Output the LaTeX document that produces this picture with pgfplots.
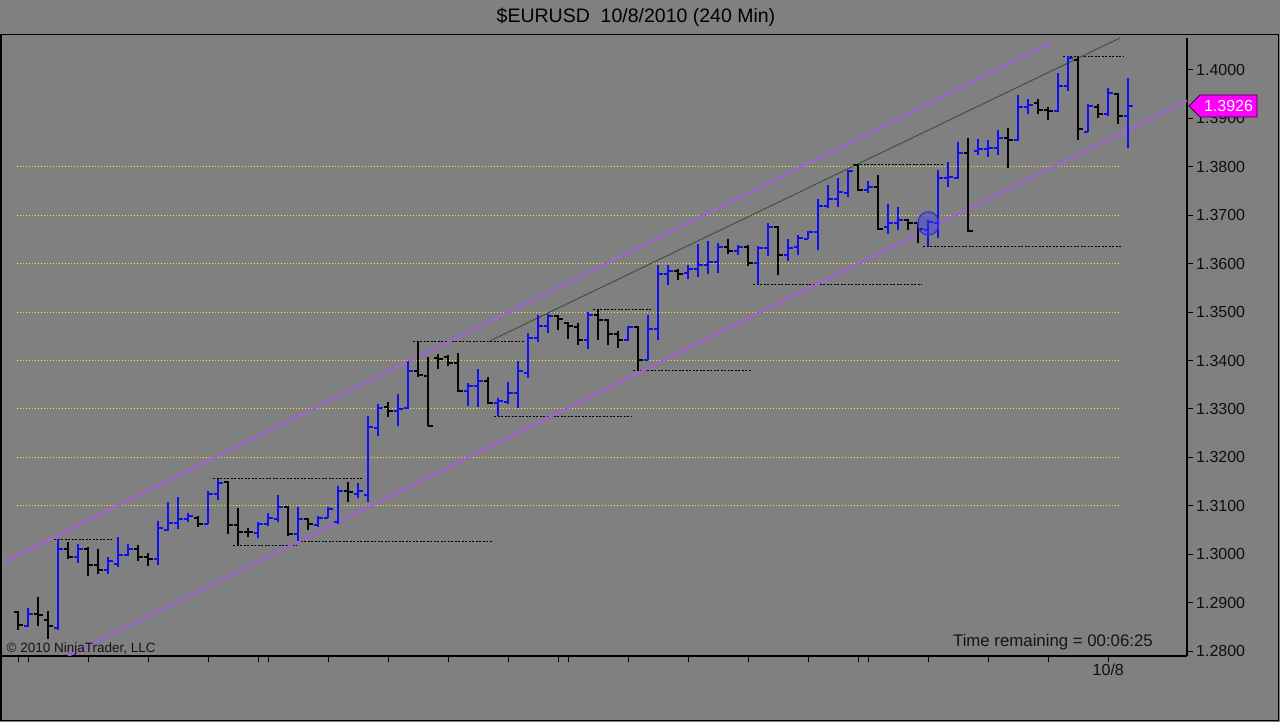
\documentclass[border=0pt]{standalone}
\usepackage{fontspec}
\setmainfont{Liberation Sans}
\usepackage{pgfplots}
\usepackage{pgfplotstable}
\pgfplotsset{compat=1.18}
\definecolor{bg}{RGB}{128,128,128}
\definecolor{upblue}{RGB}{15,15,240}
\definecolor{dnblack}{RGB}{5,5,5}
\definecolor{chan}{RGB}{160,100,210}
\definecolor{midg}{RGB}{60,85,65}
\definecolor{gridy}{RGB}{240,240,20}
\definecolor{mag}{RGB}{255,0,255}
\pgfdeclareplotmark{openL}{\pgfpathmoveto{\pgfqpoint{-4.5pt}{0pt}}\pgfpathlineto{\pgfqpoint{0pt}{0pt}}\pgfusepathqstroke}
\pgfdeclareplotmark{closeR}{\pgfpathmoveto{\pgfqpoint{0pt}{0pt}}\pgfpathlineto{\pgfqpoint{4.5pt}{0pt}}\pgfusepathqstroke}
\pgfplotstableread{
x o h l c
0 1.2881 1.2883 1.2843 1.2854
1 1.2851 1.2889 1.2850 1.2877
2 1.2876 1.2911 1.2852 1.2874
3 1.2865 1.2883 1.2825 1.2851
4 1.2848 1.3031 1.2844 1.3011
5 1.3011 1.3026 1.2989 1.2995
6 1.2995 1.3021 1.2982 1.3011
7 1.3011 1.3015 1.2954 1.2978
8 1.2978 1.3011 1.2959 1.2968
9 1.2968 1.2995 1.2959 1.2985
10 1.2980 1.3035 1.2973 1.2998
11 1.2998 1.3021 1.2997 1.3011
12 1.3011 1.3019 1.2985 1.2994
13 1.2994 1.3002 1.2975 1.2991
14 1.2990 1.3069 1.2978 1.3054
15 1.3050 1.3108 1.3047 1.3064
16 1.3064 1.3118 1.3052 1.3072
17 1.3072 1.3086 1.3067 1.3078
18 1.3074 1.3079 1.3057 1.3063
19 1.3062 1.3130 1.3062 1.3124
20 1.3124 1.3156 1.3112 1.3148
21 1.3150 1.3152 1.3042 1.3061
22 1.3061 1.3095 1.3018 1.3046
23 1.3046 1.3054 1.3035 1.3045
24 1.3043 1.3066 1.3033 1.3062
25 1.3062 1.3085 1.3059 1.3074
26 1.3072 1.3122 1.3067 1.3097
27 1.3097 1.3100 1.3037 1.3042
28 1.3042 1.3097 1.3028 1.3072
29 1.3072 1.3075 1.3050 1.3062
30 1.3060 1.3078 1.3057 1.3075
31 1.3075 1.3097 1.3075 1.3093
32 1.3066 1.3141 1.3062 1.3131
33 1.3131 1.3150 1.3107 1.3128
34 1.3125 1.3148 1.3117 1.3130
35 1.3122 1.3286 1.3107 1.3262
36 1.3260 1.3311 1.3244 1.3302
37 1.3304 1.3314 1.3283 1.3295
38 1.3295 1.3330 1.3265 1.3300
39 1.3302 1.3400 1.3300 1.3379
40 1.3379 1.3441 1.3365 1.3370
41 1.3368 1.3407 1.3264 1.3264
42 1.3406 1.3414 1.3382 1.3403
43 1.3407 1.3412 1.3388 1.3395
44 1.3395 1.3416 1.3335 1.3337
45 1.3337 1.3354 1.3307 1.3347
46 1.3347 1.3382 1.3304 1.3358
47 1.3358 1.3365 1.3311 1.3313
48 1.3313 1.3323 1.3285 1.3316
49 1.3314 1.3356 1.3311 1.3332
50 1.3332 1.3400 1.3302 1.3379
51 1.3374 1.3457 1.3364 1.3447
52 1.3447 1.3494 1.3438 1.3472
53 1.3472 1.3497 1.3456 1.3492
54 1.3492 1.3495 1.3464 1.3485
55 1.3477 1.3479 1.3445 1.3471
56 1.3470 1.3477 1.3432 1.3443
57 1.3443 1.3500 1.3423 1.3495
58 1.3495 1.3507 1.3443 1.3483
59 1.3483 1.3486 1.3433 1.3454
60 1.3454 1.3461 1.3425 1.3443
61 1.3443 1.3472 1.3440 1.3469
62 1.3469 1.3471 1.3380 1.3402
63 1.3402 1.3495 1.3402 1.3466
64 1.3466 1.3597 1.3442 1.3578
65 1.3578 1.3597 1.3555 1.3585
66 1.3585 1.3588 1.3566 1.3579
67 1.3580 1.3598 1.3568 1.3588
68 1.3588 1.3641 1.3573 1.3597
69 1.3597 1.3646 1.3578 1.3603
70 1.3603 1.3642 1.3580 1.3634
71 1.3634 1.3650 1.3620 1.3627
72 1.3627 1.3639 1.3618 1.3634
73 1.3634 1.3639 1.3595 1.3602
74 1.3602 1.3637 1.3559 1.3632
75 1.3632 1.3684 1.3616 1.3675
76 1.3675 1.3677 1.3576 1.3618
77 1.3618 1.3650 1.3605 1.3632
78 1.3634 1.3659 1.3618 1.3652
79 1.3651 1.3668 1.3650 1.3665
80 1.3665 1.3733 1.3629 1.3719
81 1.3719 1.3763 1.3714 1.3734
82 1.3734 1.3777 1.3716 1.3748
83 1.3745 1.3793 1.3738 1.3792
84 1.3803 1.3805 1.3750 1.3752
85 1.3752 1.3770 1.3745 1.3759
86 1.3759 1.3783 1.3670 1.3672
87 1.3676 1.3723 1.3662 1.3684
88 1.3684 1.3717 1.3669 1.3690
89 1.3691 1.3693 1.3669 1.3683
90 1.3683 1.3686 1.3643 1.3672
91 1.3669 1.3691 1.3636 1.3686
92 1.3683 1.3793 1.3652 1.3776
93 1.3776 1.3810 1.3759 1.3778
94 1.3776 1.3852 1.3774 1.3828
95 1.3828 1.3859 1.3665 1.3667
96 1.3832 1.3857 1.3824 1.3837
97 1.3837 1.3855 1.3821 1.3838
98 1.3839 1.3876 1.3824 1.3859
99 1.3859 1.3881 1.3797 1.3855
100 1.3855 1.3948 1.3854 1.3923
101 1.3924 1.3940 1.3910 1.3928
102 1.3931 1.3940 1.3910 1.3917
103 1.3917 1.3924 1.3897 1.3915
104 1.3915 1.3993 1.3914 1.3966
105 1.3966 1.4029 1.3957 1.4024
106 1.4021 1.4028 1.3855 1.3879
107 1.3871 1.3929 1.3871 1.3926
108 1.3924 1.3929 1.3901 1.3910
109 1.3910 1.3962 1.3906 1.3952
110 1.3950 1.3952 1.3888 1.3906
111 1.3906 1.3984 1.3839 1.3926
}\ohlc
\begin{document}
\begin{tikzpicture}
\path[use as bounding box] (0,0) rectangle (1280pt,722pt);
\fill[bg] (0,0) rectangle (1280pt,722pt);
\begin{axis}[
  at={(1pt,66pt)}, anchor=south west,
  scale only axis, width=1186pt, height=618pt,
  xmin=-1.73, xmax=116.87, ymin=1.27897, ymax=1.40661,
  axis x line*=bottom, axis y line*=right,
  axis line style={line width=1.5pt, black},
  tick align=outside, major tick length=6pt,
  tick style={line width=1pt, black},
  xtick={0,1,7,13,19,24,25,31,37,43,49,54,55,61,67,73,79,84,85,91,97,103,109},
  xticklabels={,,,,,,,,,,,,,,,,,,,,,,10/8},
  ytick={1.28,1.29,1.30,1.31,1.32,1.33,1.34,1.35,1.36,1.37,1.38,1.39,1.40},
  yticklabels={1.2800,1.2900,1.3000,1.3100,1.3200,1.3300,1.3400,1.3500,1.3600,1.3700,1.3800,1.3900,1.4000},
  ticklabel style={font=\fontsize{16}{19}\selectfont, text={rgb,255:red,15;green,15;blue,15}},
  yticklabel style={anchor=west, inner sep=3pt},
  xticklabel style={inner sep=2pt},
]
% yellow horizontal levels
\addplot[gridy, line width=1pt, dash pattern=on 1pt off 2pt] coordinates {(-0.15,1.31) (110,1.31)};
\addplot[gridy, line width=1pt, dash pattern=on 1pt off 2pt] coordinates {(-0.15,1.32) (110,1.32)};
\addplot[gridy, line width=1pt, dash pattern=on 1pt off 2pt] coordinates {(-0.15,1.33) (110,1.33)};
\addplot[gridy, line width=1pt, dash pattern=on 1pt off 2pt] coordinates {(-0.15,1.34) (110,1.34)};
\addplot[gridy, line width=1pt, dash pattern=on 1pt off 2pt] coordinates {(-0.15,1.35) (110,1.35)};
\addplot[gridy, line width=1pt, dash pattern=on 1pt off 2pt] coordinates {(-0.15,1.36) (110,1.36)};
\addplot[gridy, line width=1pt, dash pattern=on 1pt off 2pt] coordinates {(-0.15,1.37) (110,1.37)};
\addplot[gridy, line width=1pt, dash pattern=on 1pt off 2pt] coordinates {(-0.15,1.38) (110,1.38)};
% support / resistance lines
\addplot[black, line width=0.8pt, dash pattern=on 2pt off 1.5pt] coordinates {(3.6,1.3031) (9.4,1.3031)};
\addplot[black, line width=0.8pt, dash pattern=on 2pt off 1.5pt] coordinates {(21.5,1.3018) (27.9,1.3018)};
\addplot[black, line width=0.8pt, dash pattern=on 2pt off 1.5pt] coordinates {(19.5,1.3157) (34.5,1.3157)};
\addplot[black, line width=0.8pt, dash pattern=on 2pt off 1.5pt] coordinates {(27.9,1.3027) (47.4,1.3027)};
\addplot[black, line width=0.8pt, dash pattern=on 2pt off 1.5pt] coordinates {(39.5,1.3440) (50.7,1.3440)};
\addplot[black, line width=0.8pt, dash pattern=on 2pt off 1.5pt] coordinates {(47.6,1.3284) (61.4,1.3284)};
\addplot[black, line width=0.8pt, dash pattern=on 2pt off 1.5pt] coordinates {(57.5,1.3506) (63.4,1.3506)};
\addplot[black, line width=0.8pt, dash pattern=on 2pt off 1.5pt] coordinates {(61.5,1.3380) (73.4,1.3380)};
\addplot[black, line width=0.8pt, dash pattern=on 2pt off 1.5pt] coordinates {(73.5,1.3558) (90.4,1.3558)};
\addplot[black, line width=0.8pt, dash pattern=on 2pt off 1.5pt] coordinates {(83.5,1.3805) (92.5,1.3805)};
\addplot[black, line width=0.8pt, dash pattern=on 2pt off 1.5pt] coordinates {(90.5,1.3636) (110.4,1.3636)};
\addplot[black, line width=0.8pt, dash pattern=on 2pt off 1.5pt] coordinates {(104.5,1.4028) (110.5,1.4028)};
% channel
\addplot[chan, line width=2.2pt] coordinates {(-1.4,1.29838) (103.2,1.40549)};
\addplot[chan, line width=2.2pt] coordinates {(5,1.27901) (116.87,1.39366)};
\addplot[midg, line width=1pt] coordinates {(47.0,1.34388) (110.17,1.40661)};
% up bars
\addplot[draw=none, mark=none, restrict expr to domain={10000*(\thisrow{c}-\thisrow{o})}{-0.5:10000},
  error bars/.cd, y dir=plus, y explicit, error mark=none,
  error bar style={upblue, line width=2pt}]
  table[x=x, y=l, y error plus expr=\thisrow{h}-\thisrow{l}] {\ohlc};
\addplot[only marks, mark=openL, upblue, mark options={line width=2pt}, restrict expr to domain={10000*(\thisrow{c}-\thisrow{o})}{-0.5:10000}]
  table[x=x, y=o] {\ohlc};
\addplot[only marks, mark=closeR, upblue, mark options={line width=2pt}, restrict expr to domain={10000*(\thisrow{c}-\thisrow{o})}{-0.5:10000}]
  table[x=x, y=c] {\ohlc};
% down bars
\addplot[draw=none, mark=none, restrict expr to domain={10000*(\thisrow{c}-\thisrow{o})}{-10000:-0.5},
  error bars/.cd, y dir=plus, y explicit, error mark=none,
  error bar style={dnblack, line width=2pt}]
  table[x=x, y=l, y error plus expr=\thisrow{h}-\thisrow{l}] {\ohlc};
\addplot[only marks, mark=openL, dnblack, mark options={line width=2pt}, restrict expr to domain={10000*(\thisrow{c}-\thisrow{o})}{-10000:-0.5}]
  table[x=x, y=o] {\ohlc};
\addplot[only marks, mark=closeR, dnblack, mark options={line width=2pt}, restrict expr to domain={10000*(\thisrow{c}-\thisrow{o})}{-10000:-0.5}]
  table[x=x, y=c] {\ohlc};
% circle annotation
\addplot[only marks, mark=*, mark size=10.5pt, mark options={draw={rgb,255:red,50;green,50;blue,220}, fill={rgb,255:red,60;green,60;blue,230}, fill opacity=0.45, line width=1.2pt, yscale=1.12}] coordinates {(91,1.3683)};
\end{axis}
% frame
\draw[line width=1.5pt, black] (1pt,1.3pt) rectangle (1278.3pt,687.7pt);
% title
\node[font=\fontsize{19.5}{23}\selectfont, black] at (636pt,705pt) {\$EURUSD\ \ 10/8/2010 (240 Min)};
% texts in the plot
\node[font=\fontsize{13.5}{16}\selectfont, text={rgb,255:red,20;green,20;blue,20}, anchor=base west, inner sep=0pt] at (6.5pt,69pt) {\textcopyright\ 2010 NinjaTrader, LLC};
\node[font=\fontsize{16.8}{20}\selectfont, text={rgb,255:red,20;green,20;blue,20}, anchor=base east, inner sep=0pt] at (1153pt,75.5pt) {Time remaining = 00:06:25};
% last price marker
\draw[fill=mag, draw={rgb,255:red,60;green,0;blue,60}, line width=0.8pt] (1189pt,616pt) -- (1200pt,627pt) -- (1257pt,627pt) -- (1257pt,605pt) -- (1200pt,605pt) -- cycle;
\node[font=\fontsize{16}{19}\selectfont, text=white, inner sep=0pt] at (1228.5pt,616pt) {1.3926};
\end{tikzpicture}
\end{document}
